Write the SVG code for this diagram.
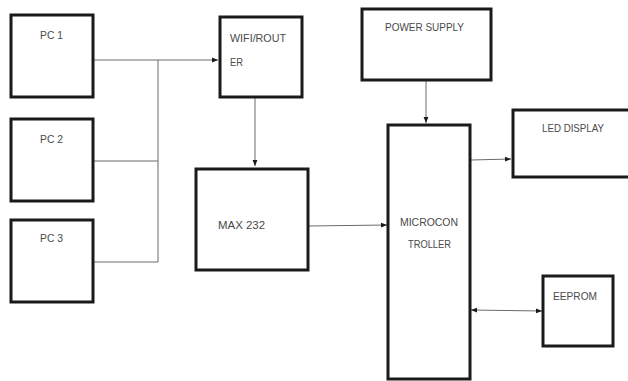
<svg xmlns="http://www.w3.org/2000/svg" width="628" height="381" viewBox="0 0 628 381">
<style>
.box{fill:#fff;stroke:#1a1a1a;stroke-width:3}
.lbl{font-family:"Liberation Sans",Arial,sans-serif;font-size:11px;fill:#4a4a4a;lengthAdjust:spacingAndGlyphs}
.wire{fill:none;stroke:#6a6a6a;stroke-width:1}
</style>
<defs>
<marker id="ah" viewBox="0 0 10 10" refX="10" refY="5" markerWidth="6" markerHeight="6" orient="auto-start-reverse" markerUnits="userSpaceOnUse">
<path d="M0,1 L10,5 L0,9 Z" fill="#1a1a1a"/>
</marker>
</defs>
<rect width="628" height="381" fill="#fff"/>
<g id="connectors">
<line class="wire" x1="93" y1="60" x2="218" y2="60" marker-end="url(#ah)"/>
<polyline class="wire" points="158,60 158,262 93,262"/>
<line class="wire" x1="93" y1="161" x2="158" y2="161"/>
<line class="wire" x1="255" y1="98" x2="255" y2="166" marker-end="url(#ah)"/>
<line class="wire" x1="308" y1="226" x2="387" y2="225" marker-end="url(#ah)"/>
<line class="wire" x1="426" y1="81" x2="426" y2="123" marker-end="url(#ah)"/>
<line class="wire" x1="471" y1="160" x2="511" y2="159" marker-end="url(#ah)"/>
<line class="wire" x1="471" y1="310" x2="542" y2="311" marker-start="url(#ah)" marker-end="url(#ah)"/>
</g>
<g id="pc1"><rect class="box" x="11" y="15" width="82" height="82"/><text class="lbl" x="40" y="39" textLength="23" lengthAdjust="spacingAndGlyphs">PC 1</text></g>
<g id="pc2"><rect class="box" x="11" y="119" width="82" height="82"/><text class="lbl" x="40" y="143" textLength="23" lengthAdjust="spacingAndGlyphs">PC 2</text></g>
<g id="pc3"><rect class="box" x="11" y="220" width="82" height="82"/><text class="lbl" x="40" y="242" textLength="23" lengthAdjust="spacingAndGlyphs">PC 3</text></g>
<g id="wifi"><rect class="box" x="220" y="17" width="82" height="80"/><text class="lbl" x="230" y="42" textLength="56" lengthAdjust="spacingAndGlyphs">WIFI/ROUT</text><text class="lbl" x="230" y="66" textLength="13" lengthAdjust="spacingAndGlyphs">ER</text></g>
<g id="max232"><rect class="box" x="196" y="169" width="112" height="101"/><text class="lbl" x="218" y="229" textLength="47" lengthAdjust="spacingAndGlyphs">MAX 232</text></g>
<g id="power"><rect class="box" x="362" y="9" width="129" height="71"/><text class="lbl" x="385" y="31" textLength="79" lengthAdjust="spacingAndGlyphs">POWER SUPPLY</text></g>
<g id="micro"><rect class="box" x="388" y="125" width="82" height="254"/><text class="lbl" x="400" y="226" textLength="58" lengthAdjust="spacingAndGlyphs">MICROCON</text><text class="lbl" x="408" y="248" textLength="43" lengthAdjust="spacingAndGlyphs">TROLLER</text></g>
<g id="led"><rect class="box" x="513" y="110" width="120" height="67"/><text class="lbl" x="542" y="132" textLength="62" lengthAdjust="spacingAndGlyphs">LED DISPLAY</text></g>
<g id="eeprom"><rect class="box" x="543" y="276" width="70" height="70"/><text class="lbl" x="553" y="300" textLength="44" lengthAdjust="spacingAndGlyphs">EEPROM</text></g>
</svg>
